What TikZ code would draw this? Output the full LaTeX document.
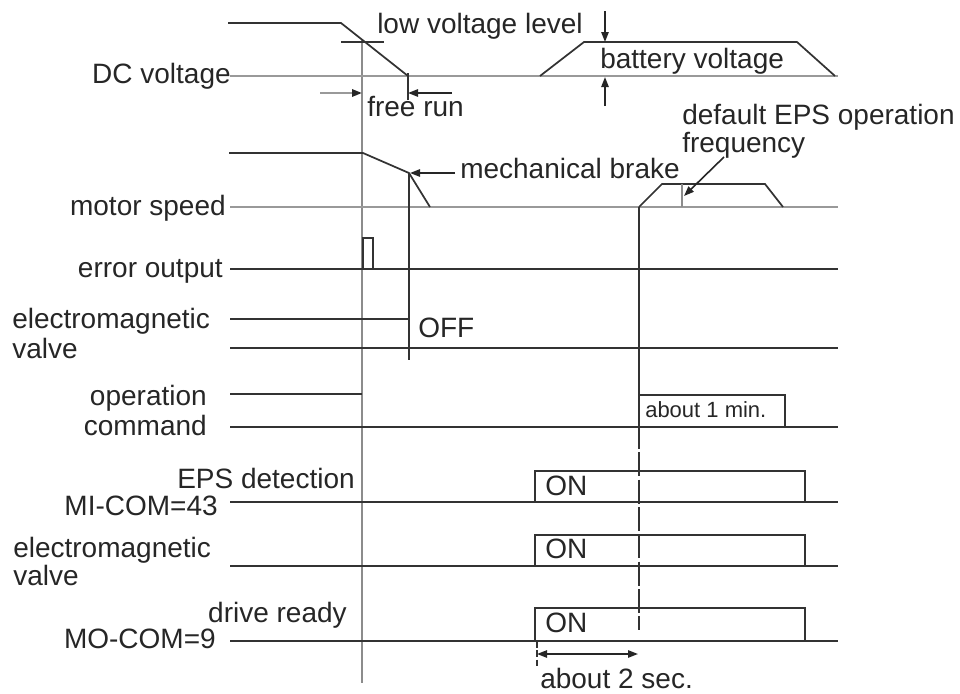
\documentclass[tikz,border=0pt]{standalone}
\usepackage{fontspec}
\setmainfont{Liberation Sans}
\usetikzlibrary{arrows.meta}
\begin{document}
\begin{tikzpicture}[x=0.75pt,y=-0.75pt,line join=miter,
  base/.style={draw=black!40,line width=2.2pt},
  sig/.style={draw=black!80,line width=1.3pt},
  guide/.style={draw=black!45,line width=1.6pt},
  thin/.style={draw=black!45,line width=1.1pt},
  lbl/.style={inner sep=0pt,font=\fontsize{21}{25}\selectfont,text=black!85},
  small/.style={inner sep=0pt,font=\fontsize{16.5}{19}\selectfont,text=black!85},
  arr/.style={-{Triangle[length=7.5pt,width=5.5pt]},line width=1.2pt,draw=black!85},
  garr/.style={-{Triangle[length=7.5pt,width=5.5pt,color=black!85]},line width=1.6pt,draw=black!40},
  dsh/.style={draw=black!80,line width=1.3pt,dash pattern=on 18pt off 2.5pt}]
\useasboundingbox (0,0) rectangle (960,693);

% main guide line
\coordinate (g1) at (362,40);
\coordinate (g2) at (362,683);
\draw[guide] (g1) -- (g2);

% ---------- DC voltage ----------
\draw[base] (230,76) -- (838,76);
\draw[sig] (228,23) -- (341,23) -- (408,76);
\draw[sig] (341,42) -- (384,42);
\draw[sig] (408,73) -- (408,100);
\draw[sig] (540,76) -- (584,42) -- (797,42) -- (835,76);
\node[lbl,anchor=base east] (tDC) at (231,83) {DC voltage};
\node[lbl,anchor=base west] (tLow) at (377,33) {low voltage level};
\node[lbl,anchor=base west] (tBat) at (600,68) {battery voltage};
\node[lbl,anchor=base west] (tFree) at (367,116) {free run};
\coordinate (lvA) at (605,11);
\coordinate (lvB) at (605,42);
\draw[arr] (lvA) -- (lvB);
\coordinate (bvA) at (605,106);
\coordinate (bvB) at (605,77);
\draw[arr] (bvA) -- (bvB);
\coordinate (frA) at (320,93);
\coordinate (frB) at (362,93);
\draw[garr] (frA) -- (frB);
\coordinate (frC) at (452,93);
\coordinate (frD) at (408,93);
\draw[arr] (frC) -- (frD);

% ---------- motor speed ----------
\draw[base] (230,207) -- (838,207);
\draw[sig] (229,153) -- (363,153) -- (409,173) -- (430,207);
\draw[sig] (409,173) -- (409,360);
\draw[sig] (639,207) -- (662,184) -- (765,184) -- (783,207);
\draw[thin] (682,184) -- (682,207);
\node[lbl,anchor=base east] (tMot) at (226,215) {motor speed};
\node[lbl,anchor=base west] (tBrk) at (460,178) {mechanical brake};
\node[lbl,anchor=base west] (tDef) at (682,124) {default EPS operation};
\node[lbl,anchor=base west] (tFrq) at (682,152) {frequency};
\coordinate (mbA) at (455,173);
\coordinate (mbB) at (410,173);
\draw[arr] (mbA) -- (mbB);
\coordinate (fqA) at (724,157);
\coordinate (fqB) at (684,196);
\draw[arr] (fqA) -- (fqB);

% vertical line at restart
\draw[sig] (639,207) -- (639,425);
\draw[dsh] (639,425) -- (639,630);

% ---------- error output ----------
\draw[sig] (230,269) -- (838,269);
\draw[sig] (363,269) -- (363,238) -- (373,238) -- (373,269);
\node[lbl,anchor=base east] (tErr) at (223,277) {error output};

% ---------- electromagnetic valve (top) ----------
\draw[sig] (230,319) -- (409,319);
\draw[sig] (230,348) -- (838,348);
\node[lbl,anchor=base west] (tEv1) at (12,328) {electromagnetic};
\node[lbl,anchor=base west] (tEv1b) at (12,358) {valve};
\node[lbl,anchor=base west] (tOff) at (418,337) {OFF};

% ---------- operation command ----------
\draw[sig] (230,394) -- (362,394);
\draw[sig] (230,427) -- (838,427);
\draw[sig] (639,427) -- (639,395) -- (785,395) -- (785,427);
\node[lbl,anchor=base east] (tOp) at (207,405) {operation};
\node[lbl,anchor=base east] (tCmd) at (207,435) {command};
\node[small,anchor=base west] (t1m) at (645,417) {about 1 min.};

% ---------- EPS detection ----------
\draw[sig] (230,502) -- (838,502);
\draw[sig] (535,502) -- (535,471) -- (805,471) -- (805,502);
\node[lbl,anchor=base east] (tEps) at (355,488) {EPS detection};
\node[lbl,anchor=base east] (tMi) at (218,515) {MI-COM=43};
\node[lbl,anchor=base west] (tOn1) at (545,495) {ON};

% ---------- electromagnetic valve (bottom) ----------
\draw[sig] (230,566) -- (838,566);
\draw[sig] (535,566) -- (535,535) -- (805,535) -- (805,566);
\node[lbl,anchor=base west] (tEv2) at (13,557) {electromagnetic};
\node[lbl,anchor=base west] (tEv2b) at (13,585) {valve};
\node[lbl,anchor=base west] (tOn2) at (545,558) {ON};

% ---------- drive ready ----------
\draw[sig] (230,641) -- (838,641);
\draw[sig] (535,641) -- (535,608) -- (805,608) -- (805,641);
\node[lbl,anchor=base east] (tDr) at (347,622) {drive ready};
\node[lbl,anchor=base east] (tMo) at (216,648) {MO-COM=9};
\node[lbl,anchor=base west] (tOn3) at (545,632) {ON};

% about 2 sec
\draw[draw=black!80,line width=1.2pt,dash pattern=on 5pt off 2pt] (537,641) -- (537,668);
\coordinate (s2A) at (537,654);
\coordinate (s2B) at (638,654);
\draw[{Triangle[length=7.5pt,width=5.5pt]}-{Triangle[length=7.5pt,width=5.5pt]},line width=1.2pt,draw=black!85] (s2A) -- (s2B);
\node[lbl,anchor=base west] (t2s) at (540,688) {about 2 sec.};
\end{tikzpicture}
\end{document}
